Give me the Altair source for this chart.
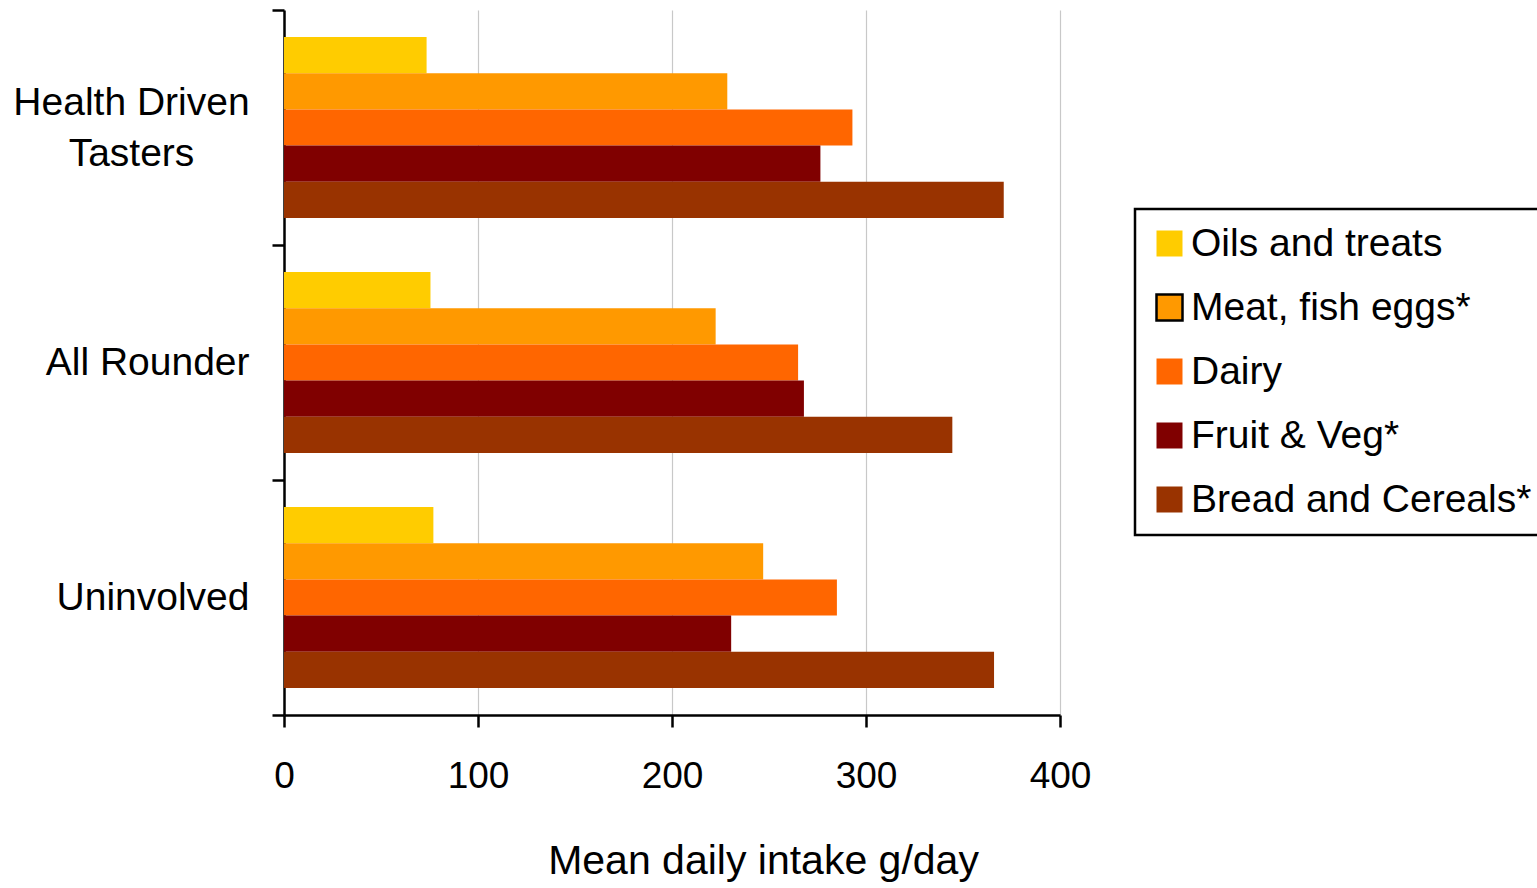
import altair as alt
import pandas as pd

segments = ["Health Driven Tasters", "All Rounder", "Uninvolved"]
food_groups = ["Oils and treats", "Meat, fish eggs*", "Dairy", "Fruit & Veg*", "Bread and Cereals*"]
colors = ["#FFCC00", "#FF9900", "#FF6600", "#800000", "#993300"]

oils = [73.5, 75.5, 77.0]
meat = [228.5, 222.5, 247.0]
dairy = [293.0, 265.0, 285.0]
fruit_veg = [276.5, 268.0, 230.5]
bread = [371.0, 344.5, 366.0]

series = [oils, meat, dairy, fruit_veg, bread]
rows = []
for g, vals in zip(food_groups, series):
    for s, v in zip(segments, vals):
        rows.append({"segment": s, "group": g, "value": v})
df = pd.DataFrame(rows)

FONT = "Liberation Sans"
HDT = "datum.value == 'Health Driven Tasters'"

chart = alt.Chart(df).mark_bar().encode(
    x=alt.X(
        "value:Q",
        scale=alt.Scale(domain=[0, 400], nice=False),
        axis=alt.Axis(
            values=[0, 100, 200, 300, 400],
            title="Mean daily intake g/day",
            titleFont=FONT,
            titleFontSize=41,
            titleFontWeight="normal",
            titleColor="black",
            titleX=479,
            titleY=158,
            titleAlign="center",
            titleBaseline="alphabetic",
            labelFont=FONT,
            labelFontSize=37,
            labelColor="black",
            labelPadding=31,
            labelFlush=False,
            domainColor="black",
            domainWidth=2.5,
            tickColor="black",
            tickWidth=2.5,
            tickSize=12,
            grid=True,
            gridColor="#c8c8c8",
            gridWidth=1.2,
        ),
    ),
    y=alt.Y(
        "segment:N",
        sort=segments,
        scale=alt.Scale(paddingInner=0, paddingOuter=0),
        axis=alt.Axis(
            title=None,
            labelExpr=f"{HDT} ? ['Health Driven', 'Tasters'] : datum.label",
            labelFont=FONT,
            labelFontSize=39,
            labelColor="black",
            labelLineHeight=51,
            labelPadding=alt.ExprRef(f"{HDT} ? 141 : 23"),
            labelAlign=alt.ExprRef(f"{HDT} ? 'center' : 'right'"),
            labelBaseline="middle",
            labelLimit=500,
            labelOffset=alt.ExprRef(f"{HDT} ? -25 : 0"),
            domainColor="black",
            domainWidth=2.5,
            tickColor="black",
            tickWidth=2.5,
            tickSize=12,
            tickBand="extent",
            grid=False,
        ),
    ),
    yOffset=alt.YOffset(
        "group:N",
        sort=food_groups,
        scale=alt.Scale(paddingInner=0, paddingOuter=0.746),
    ),
    color=alt.Color(
        "group:N",
        sort=food_groups,
        scale=alt.Scale(domain=food_groups, range=colors),
        legend=alt.Legend(
            title=None,
            orient="none",
            legendX=851,
            legendY=199,
            symbolType="square",
            symbolSize=676,
            symbolOpacity=1,
            symbolStrokeWidth=2.5,
            symbolStrokeColor=alt.ExprRef("datum.label == 'Meat, fish eggs*' ? 'black' : 'transparent'"),
            labelFont=FONT,
            labelFontSize=39,
            labelColor="black",
            labelOffset=2,
            labelLimit=600,
            rowPadding=24,
            padding=15,
            strokeColor="black",
        ),
    ),
).properties(
    width=776,
    height=705,
    autosize=alt.AutoSizeParams(type="none"),
    padding={"left": 284, "top": 10, "right": 477, "bottom": 173},
).configure_view(
    stroke=None
).configure_legend(
    strokeWidth=2.5
)

chart.save("out.html", embed_options={"renderer": "svg", "actions": False})
